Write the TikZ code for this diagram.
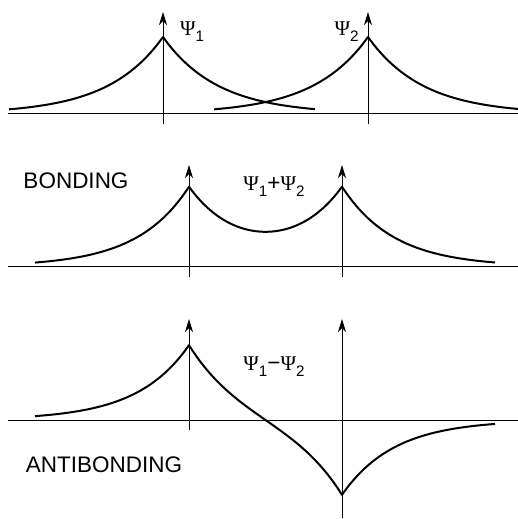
\documentclass[tikz,border=0pt]{standalone}
\usepackage{fontspec}
\setmainfont{Liberation Sans}
\newfontfamily\psifont{Liberation Serif}
\usetikzlibrary{arrows.meta}

% wave function label: Psi with a sans subscript
\newcommand\wfn[1]{{\psifont\fontsize{10.5}{12}\selectfont Ψ}\raisebox{-3.3pt}{\fontsize{7.6}{9}\selectfont #1}}

\begin{document}
\begin{tikzpicture}[x=0.5pt,y=-0.5pt,>={Stealth[length=6.5pt,width=4pt,inset=2pt]},
  axis/.style={line width=0.5pt},
  wave/.style={line width=1pt,line join=round},
  lbl/.style={inner sep=0pt,font=\fontsize{11.25}{13}\selectfont}]
  \useasboundingbox (0,0) rectangle (518,519);

  % Panel 1: the two separate functions
  \draw[axis] (8,114) -- (518,114);
  \draw[axis,->] (163,124) -- (163,12);
  \draw[axis,->] (368,124) -- (368,12);
  \draw[wave] plot[domain=9:315,samples=307] (\x,{114-77*exp(-abs(\x-163)/55)});
  \draw[wave] plot[domain=214:518,samples=305] (\x,{114-77*exp(-abs(\x-368)/55)});
  \node[lbl] (psi1) at (192,31.7) {\wfn{1}};
  \node[lbl] (psi2) at (346.5,31.7) {\wfn{2}};

  % Panel 2: sum
  \draw[axis] (8,266.7) -- (518,266.7);
  \draw[axis,->] (189,277) -- (189,165);
  \draw[axis,->] (342,277) -- (342,165);
  \draw[wave] plot[domain=35:495,samples=461]
    (\x,{266.7-76*(exp(-abs(\x-189)/52)+exp(-abs(\x-342)/52))});
  \node[lbl] (bond) at (76,181) {BONDING};
  \node[lbl] (sum) at (274,186.5) {\wfn{1}+\wfn{2}};

  % Panel 3: difference
  \draw[axis] (8,420) -- (518,420);
  \draw[axis,->] (189,430) -- (189,319);
  \draw[axis,->] (342,518) -- (342,319);
  \draw[wave] plot[domain=35:495,samples=461]
    (\x,{420-79*(exp(-abs(\x-189)/52)-exp(-abs(\x-342)/52))});
  \node[lbl] (anti) at (104,465) {ANTIBONDING};
  \node[lbl] (diff) at (274,366.7) {\wfn{1}−\wfn{2}};
\end{tikzpicture}
\end{document}
